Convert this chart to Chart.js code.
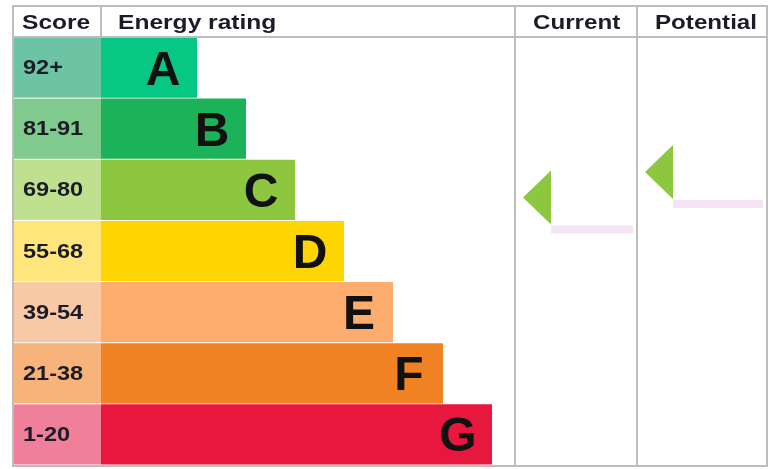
<!DOCTYPE html>
<html lang="en">
<head>
  <meta charset="UTF-8">
  <title>Energy rating</title>
  <style>
    body { margin: 0; background: #fff; }
    canvas { display: block; }
  </style>
</head>
<body>
  <canvas id="epc" width="771" height="469"></canvas>

  <script src="https://cdn.jsdelivr.net/npm/chart.js"></script>
  <script>
    // bands, top to bottom
    const bands = ['A', 'B', 'C', 'D', 'E', 'F', 'G'];
    const scoreLabels = ['92+', '81-91', '69-80', '55-68', '39-54', '21-38', '1-20'];
    const bandMin = [92, 81, 69, 55, 39, 21, 1];
    const bandMax = [100, 91, 80, 68, 54, 38, 20];
    const barLengths = [96, 145, 194, 243, 292, 342, 391];
    const barColors = ['#06c784', '#1bb25a', '#8dc740', '#ffd500', '#fcac6c', '#f08223', '#e8173d'];
    const scoreColors = ['#6cc4a5', '#80ca8d', '#bfe08f', '#ffe67c', '#f9c8a4', '#f7b37a', '#f07f9a'];
    const currentScore = 73;
    const potentialScore = 78;

    // table layout
    const frame = { left: 13, top: 6, right: 767, bottom: 466, header: 37 };
    const scoreColRight = 101;
    const currentCol = [515, 637];
    const potentialCol = [637, 767];
    const lineColor = '#bdbdbd';
    const textColor = '#1c1c28';
    const font = "'Liberation Sans', Arial, sans-serif";

    function bandIndex(score) {
      return bandMin.findIndex((m, i) => score >= m && score <= bandMax[i]);
    }

    function scoreToY(chart, score) {
      const y = chart.scales.y;
      const i = bandIndex(score);
      const rowH = (chart.chartArea.bottom - chart.chartArea.top) / bands.length;
      const top = y.getPixelForValue(i) - rowH / 2;
      const span = bandMax[i] - bandMin[i] + 1;
      return top + (bandMax[i] - score + 0.5) / span * rowH;
    }

    // the original text is drawn a little wider than plain Arial
    function stretchText(ctx, text, x, y, sx) {
      ctx.save();
      ctx.translate(x, y);
      ctx.scale(sx, 1);
      ctx.fillText(text, 0, 0);
      ctx.restore();
    }

    function drawArrow(ctx, chart, col, score) {
      const y = scoreToY(chart, score);
      const tip = col[0] + 8, base = col[0] + 36;
      ctx.fillStyle = '#8dc740';
      ctx.beginPath();
      ctx.moveTo(tip, y);
      ctx.lineTo(base, y - 27);
      ctx.lineTo(base, y + 27);
      ctx.closePath();
      ctx.fill();
      ctx.fillStyle = '#f5e4f5';
      ctx.fillRect(base, y + 28, col[1] - 4 - base, 8);
    }

    const tablePlugin = {
      id: 'epcTable',
      beforeDatasetsDraw(chart) {
        const ctx = chart.ctx;
        const y = chart.scales.y;
        const rowH = (chart.chartArea.bottom - chart.chartArea.top) / bands.length;
        ctx.save();
        bands.forEach((b, i) => {
          const cy = y.getPixelForValue(i);
          ctx.fillStyle = scoreColors[i];
          ctx.fillRect(frame.left, cy - rowH / 2 + 0.5, scoreColRight - frame.left, rowH - 1);
          ctx.fillStyle = textColor;
          ctx.font = 'bold 21px ' + font;
          ctx.textAlign = 'left';
          ctx.textBaseline = 'alphabetic';
          stretchText(ctx, scoreLabels[i], 23, cy + 6.5, 1.12);
        });
        ctx.restore();
      },
      afterDatasetsDraw(chart) {
        const ctx = chart.ctx;
        const x = chart.scales.x;
        const y = chart.scales.y;
        ctx.save();

        // band letters
        ctx.fillStyle = '#111';
        ctx.font = 'bold 48px ' + font;
        ctx.textAlign = 'center';
        ctx.textBaseline = 'alphabetic';
        bands.forEach((b, i) => {
          ctx.fillText(b, x.getPixelForValue(barLengths[i]) - 34, y.getPixelForValue(i) + 17);
        });

        // grid
        ctx.strokeStyle = lineColor;
        ctx.lineWidth = 2;
        ctx.strokeRect(frame.left, frame.top, frame.right - frame.left, frame.bottom - frame.top);
        ctx.beginPath();
        ctx.moveTo(frame.left, frame.header); ctx.lineTo(frame.right, frame.header);
        ctx.moveTo(scoreColRight, frame.top); ctx.lineTo(scoreColRight, frame.header);
        ctx.moveTo(currentCol[0], frame.top); ctx.lineTo(currentCol[0], frame.bottom);
        ctx.moveTo(potentialCol[0], frame.top); ctx.lineTo(potentialCol[0], frame.bottom);
        ctx.stroke();

        // headers
        ctx.fillStyle = textColor;
        ctx.font = 'bold 21px ' + font;
        ctx.textBaseline = 'alphabetic';
        ctx.textAlign = 'left';
        stretchText(ctx, 'Score', 22, 29, 1.17);
        stretchText(ctx, 'Energy rating', 118, 29, 1.17);
        stretchText(ctx, 'Current', 533, 29, 1.15);
        stretchText(ctx, 'Potential', 655, 29, 1.15);

        // current / potential arrows
        drawArrow(ctx, chart, currentCol, currentScore);
        drawArrow(ctx, chart, potentialCol, potentialScore);
        ctx.restore();
      }
    };

    new Chart(document.getElementById('epc').getContext('2d'), {
      type: 'bar',
      data: {
        labels: bands,
        datasets: [{
          data: barLengths,
          backgroundColor: barColors,
          borderWidth: 0,
          barPercentage: 1,
          categoryPercentage: 0.985
        }]
      },
      options: {
        indexAxis: 'y',
        responsive: false,
        animation: false,
        layout: { padding: { left: scoreColRight, top: frame.header, right: 771 - frame.right, bottom: 469 - frame.bottom + 1 } },
        scales: {
          x: { display: false, min: 0, max: frame.right - scoreColRight },
          y: { display: false }
        },
        plugins: { legend: { display: false }, tooltip: { enabled: false } }
      },
      plugins: [tablePlugin]
    });
  </script>
</body>
</html>
